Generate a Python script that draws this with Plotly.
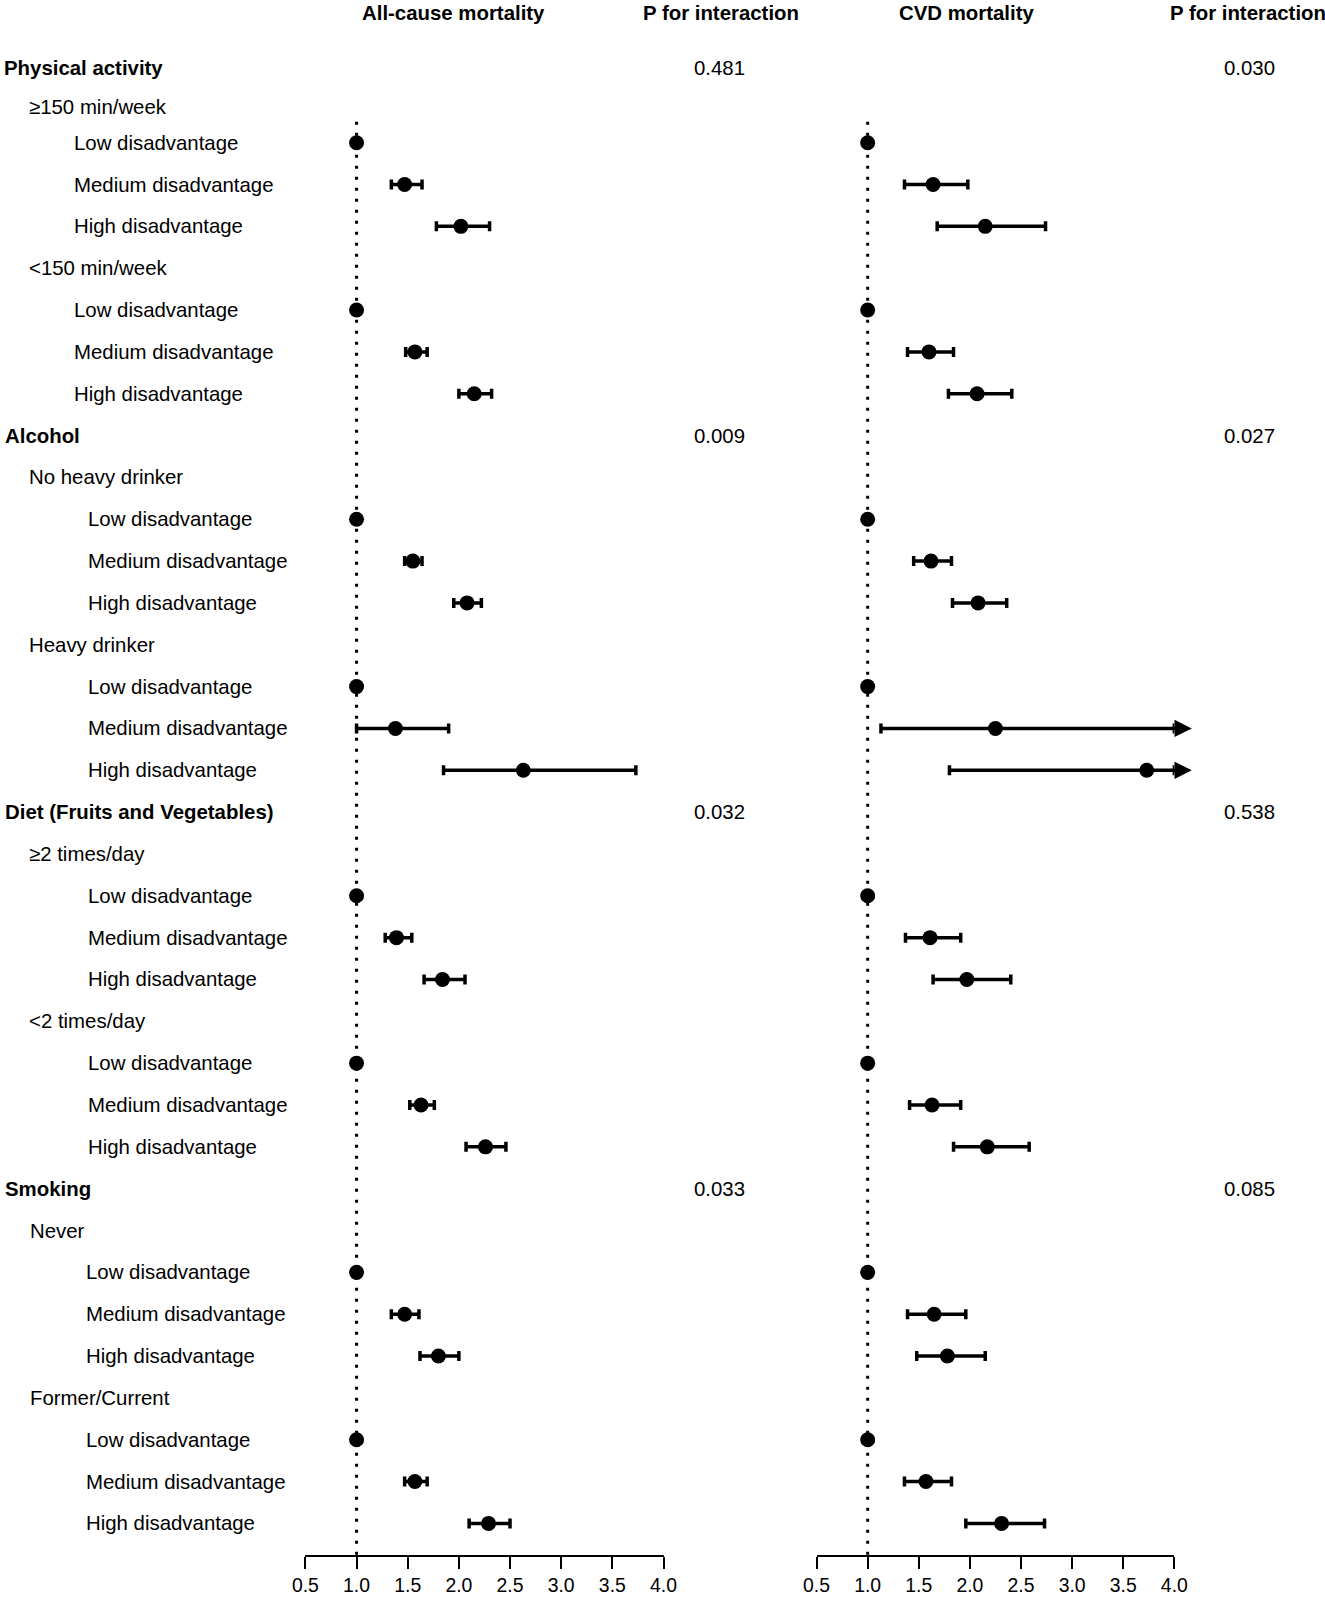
import plotly.graph_objects as go

# ---- data ----
domains = ["Physical activity", "Alcohol", "Diet (Fruits and Vegetables)", "Smoking"]
strata = [
    ["≥150 min/week", "<150 min/week"],
    ["No heavy drinker", "Heavy drinker"],
    ["≥2 times/day", "<2 times/day"],
    ["Never", "Former/Current"],
]
levels = ["Low disadvantage", "Medium disadvantage", "High disadvantage"]

p_allcause = ["0.481", "0.009", "0.032", "0.033"]
p_cvd = ["0.030", "0.027", "0.538", "0.085"]

# hazard ratios (95% CI), ordered domain -> stratum -> level
allcause_hr = [1.00, 1.47, 2.02, 1.00, 1.57, 2.15,
               1.00, 1.55, 2.08, 1.00, 1.38, 2.63,
               1.00, 1.39, 1.84, 1.00, 1.63, 2.26,
               1.00, 1.47, 1.80, 1.00, 1.57, 2.29]
allcause_lo = [1.00, 1.34, 1.78, 1.00, 1.48, 2.00,
               1.00, 1.47, 1.95, 1.00, 1.00, 1.85,
               1.00, 1.28, 1.66, 1.00, 1.52, 2.07,
               1.00, 1.34, 1.62, 1.00, 1.47, 2.10]
allcause_hi = [1.00, 1.64, 2.30, 1.00, 1.69, 2.32,
               1.00, 1.64, 2.22, 1.00, 1.90, 3.73,
               1.00, 1.54, 2.06, 1.00, 1.76, 2.46,
               1.00, 1.61, 2.00, 1.00, 1.69, 2.50]

cvd_hr = [1.00, 1.64, 2.15, 1.00, 1.60, 2.07,
          1.00, 1.62, 2.08, 1.00, 2.25, 3.73,
          1.00, 1.61, 1.97, 1.00, 1.63, 2.17,
          1.00, 1.65, 1.78, 1.00, 1.57, 2.31]
cvd_lo = [1.00, 1.36, 1.68, 1.00, 1.39, 1.79,
          1.00, 1.45, 1.83, 1.00, 1.13, 1.80,
          1.00, 1.37, 1.64, 1.00, 1.41, 1.84,
          1.00, 1.39, 1.48, 1.00, 1.36, 1.96]
cvd_hi = [1.00, 1.98, 2.74, 1.00, 1.84, 2.41,
          1.00, 1.82, 2.36, 1.00, 4.48, 7.73,
          1.00, 1.91, 2.40, 1.00, 1.91, 2.58,
          1.00, 1.96, 2.15, 1.00, 1.82, 2.73]

x_ticks = [0.5, 1.0, 1.5, 2.0, 2.5, 3.0, 3.5, 4.0]

# ---- layout constants (pixels of the target picture) ----
PIC_W, H = 1325, 1597
W = 1355  # figure width; the capture is fitted back to PIC_W
ROW0_PX, ROW_PX = 59.0, 41.84
AXIS_PX, TOP_PX = 1555, 20
X_MIN, X_MAX = 0.5, 4.0
ARROW_TIP = 0.17
FONT = "Liberation Sans, Arial, sans-serif"


def fx(px):
    return min(max(px / PIC_W, 0.0), 1.0)


indent_px = {0: [4, 5, 5, 5], 1: [29, 29, 29, 30], 2: [74, 88, 88, 86]}
label_yshift = {0: -9, 1: -6}

# rows: (label, level, domain index)
rows = []
for d, name in enumerate(domains):
    rows.append((name, 0, d))
    for s in strata[d]:
        rows.append((s, 1, d))
        for lv in levels:
            rows.append((lv, 2, d))

leaf_y = [i for i, r in enumerate(rows) if r[1] == 2]
header_y = [i for i, r in enumerate(rows) if r[1] == 0]

y_bottom = (AXIS_PX - ROW0_PX) / ROW_PX
y_top = (TOP_PX - ROW0_PX) / ROW_PX
y_domain = [1 - AXIS_PX / H, 1 - TOP_PX / H]

fig = go.Figure()


def add_panel(hr, lo, hi, xa, ya):
    hi_c = [min(h, X_MAX) for h in hi]
    fig.add_trace(go.Scatter(
        x=hr, y=leaf_y, mode="markers",
        marker=dict(size=15, color="black"),
        error_x=dict(type="data", symmetric=False,
                     array=[c - h for c, h in zip(hi_c, hr)],
                     arrayminus=[h - l for h, l in zip(hr, lo)],
                     color="black", thickness=3.5, width=5),
        xaxis=xa, yaxis=ya, hoverinfo="skip", showlegend=False,
    ))
    # CI running past the axis end gets an arrow
    for i, h in enumerate(hi):
        if h > X_MAX:
            fig.add_annotation(
                x=X_MAX + ARROW_TIP, y=leaf_y[i], xref=xa, yref=ya,
                ax=X_MAX - 0.02, ay=leaf_y[i], axref=xa, ayref=ya,
                text="", showarrow=True, arrowhead=2, arrowsize=1.15,
                arrowwidth=3, arrowcolor="black",
            )
    # reference line at HR = 1
    fig.add_shape(type="line", xref=xa, yref=ya, x0=1, x1=1, y0=1.5, y1=y_bottom,
                  line=dict(color="black", width=3, dash="3px,8px"), layer="below")


add_panel(allcause_hr, allcause_lo, allcause_hi, "x", "y")
add_panel(cvd_hr, cvd_lo, cvd_hi, "x2", "y2")

# row labels
for i, (label, kind, d) in enumerate(rows):
    fig.add_annotation(
        text=f"<b>{label}</b>" if kind == 0 else label,
        x=fx(indent_px[kind][d]), xref="paper", xanchor="left",
        y=i, yref="y", yanchor="middle", yshift=label_yshift.get(i, 0),
        showarrow=False, font=dict(size=20.4),
    )

# p for interaction
for d, yi in enumerate(header_y):
    for px, txt in [(720, p_allcause[d]), (1249, p_cvd[d])]:
        fig.add_annotation(text=txt, x=fx(px), xref="paper", xanchor="center",
                           y=yi, yref="y", yanchor="middle",
                           yshift=label_yshift.get(yi, 0),
                           showarrow=False, font=dict(size=20.4))

# column headers
for px, txt in [(454, "All-cause mortality"), (721, "P for interaction"),
                (966, "CVD mortality"), (1247, "P for interaction")]:
    fig.add_annotation(text=f"<b>{txt}</b>", x=fx(px), xref="paper", xanchor="center",
                       y=1 - 13 / H, yref="paper", yanchor="middle",
                       showarrow=False, font=dict(size=20.4))

xaxis_style = dict(
    range=[X_MIN, X_MAX], showline=True, linecolor="black", linewidth=2,
    ticks="outside", ticklen=12, tickwidth=2, tickcolor="black",
    tickvals=x_ticks, ticktext=[f"{v:.1f}" for v in x_ticks],
    tickfont=dict(size=19.4), showgrid=False, zeroline=False, fixedrange=True,
)
yaxis_style = dict(domain=y_domain, range=[y_bottom, y_top], visible=False,
                   showgrid=False, zeroline=False, fixedrange=True)

fig.update_layout(
    width=W, height=H,
    margin=dict(l=0, r=0, t=0, b=0),
    paper_bgcolor="white", plot_bgcolor="white",
    font=dict(family=FONT, size=20, color="black"),
    showlegend=False,
    xaxis=dict(domain=[fx(306.7), fx(664.0)], anchor="y", **xaxis_style),
    yaxis=dict(anchor="x", **yaxis_style),
    xaxis2=dict(domain=[fx(816.7), fx(1173.7)], anchor="y2", **xaxis_style),
    yaxis2=dict(anchor="x2", **yaxis_style),
)

# page margin off; the capture starts ~15px left of the body, so pull it back
fig.write_html(
    "out.html",
    config={"displayModeBar": False},
    post_script=("document.body.style.margin='0';"
                 "document.body.style.marginLeft='-15px';"
                 "document.body.style.overflow='hidden';"),
)
